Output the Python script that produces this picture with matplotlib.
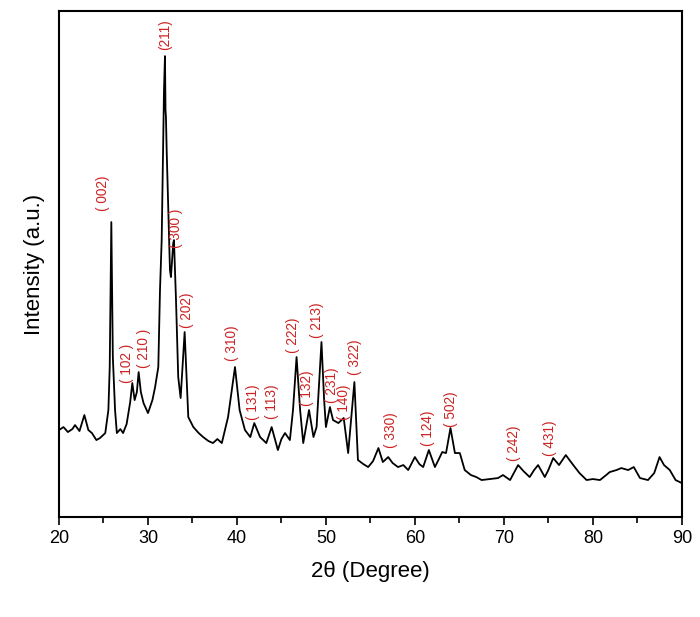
import matplotlib
matplotlib.use('Agg')
import matplotlib.pyplot as plt
from matplotlib.ticker import MultipleLocator

plt.rcParams['font.family'] = ['Liberation Sans', 'DejaVu Sans']

# 2theta (deg) and intensity (a.u.)
two_theta = [20.0, 20.5, 21.0, 21.5, 21.8, 22.3, 22.85, 23.3, 23.7, 24.2, 24.6, 25.2, 25.55,
             25.7, 25.88, 26.05, 26.3, 26.5, 26.9, 27.2, 27.6, 28.0, 28.24, 28.5, 28.75,
             28.95, 29.2, 29.5, 30.0, 30.5, 30.8, 31.16, 31.35, 31.54, 31.8, 31.91,
             31.97, 32.02, 32.1, 32.28, 32.47, 32.58, 32.84, 32.92, 33.15, 33.4,
             33.67, 34.12, 34.53, 35.1, 35.7, 36.2, 36.8, 37.3, 37.8, 38.3, 39.0, 39.78,
             40.3, 40.9, 41.5, 41.95, 42.6, 43.3, 43.9, 44.6, 45.0, 45.4, 45.95, 46.3,
             46.7, 47.1, 47.45, 48.1, 48.6, 48.95, 49.5, 49.8, 50.0, 50.45, 50.8, 51.4,
             52.0, 52.5, 53.2, 53.6, 54.2, 54.75, 55.3, 55.9, 56.4, 57.0, 57.5, 58.1,
             58.7, 59.25, 60.0, 60.5, 60.93, 61.57, 62.25, 62.7, 63.07, 63.5, 64.0,
             64.5, 65.05, 65.6, 66.3, 66.9, 67.5, 68.4, 69.35, 69.9, 70.7, 71.6, 72.2,
             72.9, 73.4, 73.85, 74.6, 75.0, 75.55, 76.2, 76.96, 77.8, 78.5, 79.3, 80.0,
             80.8, 81.5, 81.9, 82.66, 83.2, 83.97, 84.6, 85.3, 86.2, 86.9, 87.5, 88.0,
             88.65, 89.3, 90.0]
intensity = [87, 90, 85, 88, 92, 86, 102, 87, 84, 77, 79, 84, 107,
             150, 295, 160, 107, 84, 88, 84, 93, 115, 134, 117, 125,
             145, 125, 114, 104, 117, 130, 150, 227, 277, 427, 461,
             407, 400, 367, 310, 247, 240, 274, 277, 217, 140,
             119, 185, 100, 90, 84, 80, 76, 74, 78, 74, 100, 150,
             107, 87, 80, 94, 80, 74, 90, 67, 78, 84, 77, 107,
             160, 107, 74, 107, 80, 90, 175, 117, 90, 110, 97, 94,
             99, 64, 135, 57, 53, 50, 56, 69, 55, 60, 54, 50,
             52, 47, 60, 53, 50, 67, 50, 58, 65, 64, 89,
             64, 64, 47, 42, 40, 37, 38, 39, 42, 37, 52, 46,
             40, 47, 52, 40, 47, 59, 52, 62, 52, 44, 37, 38,
             37, 42, 45, 47, 49, 47, 50, 39, 37, 44, 60, 52,
             47, 37, 34]

# Miller indices and where their labels sit
hkl_labels = ['( 002)', '(211)', '( 300 )', '( 202)', '( 102 )', '( 210 )', '( 310)',
              '( 131)', '( 113)', '( 222)', '( 132)', '( 213)', '( 231)', '( 140)',
              '( 322)', '( 330)', '( 124)', '( 502)', '( 242)', '( 431)']
hkl_x = [24.9, 31.9, 33.2, 34.35, 27.6, 29.55, 39.4, 41.83, 43.9, 46.26, 47.9,
         48.95, 50.64, 52.0, 53.26, 57.27, 61.5, 64.1, 71.1, 75.2]
hkl_y = [324, 482, 289, 207, 154, 169, 174, 115, 115, 182, 129, 197, 132, 115,
         160, 87, 89, 108, 74, 79]

fig = plt.figure(figsize=(7, 6.17), dpi=100)
ax = fig.add_axes([0.0843, 0.162, 0.8897, 0.820])
ax.plot(two_theta, intensity, color='black', linewidth=1.3)

for lab, x, y in zip(hkl_labels, hkl_x, hkl_y):
    ax.text(x, y, lab, rotation=90, color='#cc2222', fontsize=9.8,
            ha='center', va='center')

ax.set_xlim(20, 90)
ax.set_ylim(0, 506)
ax.xaxis.set_major_locator(MultipleLocator(10))
ax.xaxis.set_minor_locator(MultipleLocator(5))
ax.set_yticks([])
ax.tick_params(axis='x', which='major', length=6, width=1.2, labelsize=13, direction='out')
ax.tick_params(axis='x', which='minor', length=4, width=1.2, direction='out')
for s in ax.spines.values():
    s.set_linewidth(1.5)

ax.set_xlabel('2θ (Degree)', fontsize=16, labelpad=10)
ax.set_ylabel('Intensity (a.u.)', fontsize=16, labelpad=10)

plt.savefig('out.png', dpi=100)
